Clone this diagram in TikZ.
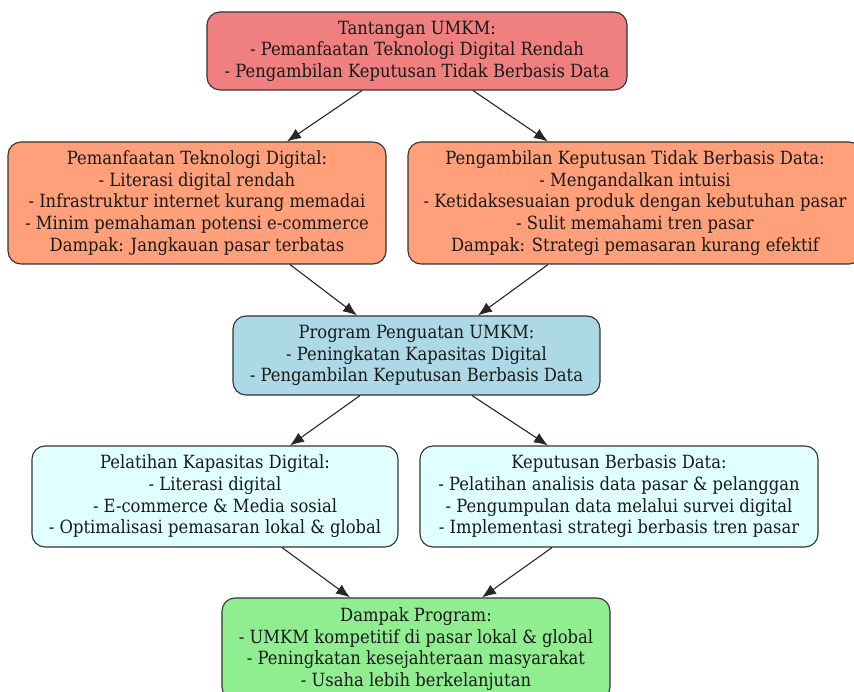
\documentclass[tikz,border=0pt]{standalone}
\usepackage{fontspec}
\setmainfont{DejaVu Serif Condensed}
\usetikzlibrary{arrows.meta}
\definecolor{cRed}{HTML}{F08080}
\definecolor{cSalmon}{HTML}{FFA07A}
\definecolor{cBlue}{HTML}{ADD8E6}
\definecolor{cCyan}{HTML}{E0FFFF}
\definecolor{cGreen}{HTML}{90EE90}
\definecolor{cLine}{HTML}{333333}
\tikzset{
  box/.style={draw=cLine, line width=1.1pt, rounded corners=13pt, align=center,
    inner sep=0pt, font=\fontsize{18.2}{21.6}\selectfont, text=black!90},
  conn/.style={draw=black!85, line width=1.1pt, -{Latex[length=14pt,width=11pt]}}
}
\begin{document}
\begin{tikzpicture}[x=1pt,y=-1pt]
\useasboundingbox (0,0) rectangle (854,692);
\node[box, fill=cRed, minimum width=420pt, minimum height=78pt] (top) at (417,51)
  {Tantangan UMKM:\\- Pemanfaatan Teknologi Digital Rendah\\- Pengambilan Keputusan Tidak Berbasis Data};
\node[box, fill=cSalmon, minimum width=378pt, minimum height=122pt] (left) at (197,203)
  {Pemanfaatan Teknologi Digital:\\- Literasi digital rendah\\- Infrastruktur internet kurang memadai\\- Minim pemahaman potensi e-commerce\\Dampak: Jangkauan pasar terbatas};
\node[box, fill=cSalmon, minimum width=454pt, minimum height=122pt] (right) at (635,203)
  {Pengambilan Keputusan Tidak Berbasis Data:\\- Mengandalkan intuisi\\- Ketidaksesuaian produk dengan kebutuhan pasar\\- Sulit memahami tren pasar\\Dampak: Strategi pemasaran kurang efektif};
\node[box, fill=cBlue, minimum width=367pt, minimum height=79pt] (prog) at (416.5,355.5)
  {Program Penguatan UMKM:\\- Peningkatan Kapasitas Digital\\- Pengambilan Keputusan Berbasis Data};
\node[box, fill=cCyan, minimum width=366pt, minimum height=101pt] (lc) at (215,496.5)
  {Pelatihan Kapasitas Digital:\\- Literasi digital\\- E-commerce \& Media sosial\\- Optimalisasi pemasaran lokal \& global};
\node[box, fill=cCyan, minimum width=398pt, minimum height=101pt] (rc) at (619,496.5)
  {Keputusan Berbasis Data:\\- Pelatihan analisis data pasar \& pelanggan\\- Pengumpulan data melalui survei digital\\- Implementasi strategi berbasis tren pasar};
\node[box, fill=cGreen, minimum width=388pt, minimum height=102pt] (dampak) at (416,649)
  {Dampak Program:\\- UMKM kompetitif di pasar lokal \& global\\- Peningkatan kesejahteraan masyarakat\\- Usaha lebih berkelanjutan};
\draw[conn] (top.south -| 362,0) -- (left.north -| 287,0);
\draw[conn] (top.south -| 473,0) -- (right.north -| 548,0);
\draw[conn] (left.south -| 290,0) -- (prog.north -| 357,0);
\draw[conn] (right.south -| 548,0) -- (prog.north -| 478,0);
\draw[conn] (prog.south -| 360,0) -- (lc.north -| 290,0);
\draw[conn] (prog.south -| 472,0) -- (rc.north -| 548,0);
\draw[conn] (lc.south -| 282,0) -- (dampak.north -| 350,0);
\draw[conn] (rc.south -| 552,0) -- (dampak.north -| 482,0);
\end{tikzpicture}
\end{document}
